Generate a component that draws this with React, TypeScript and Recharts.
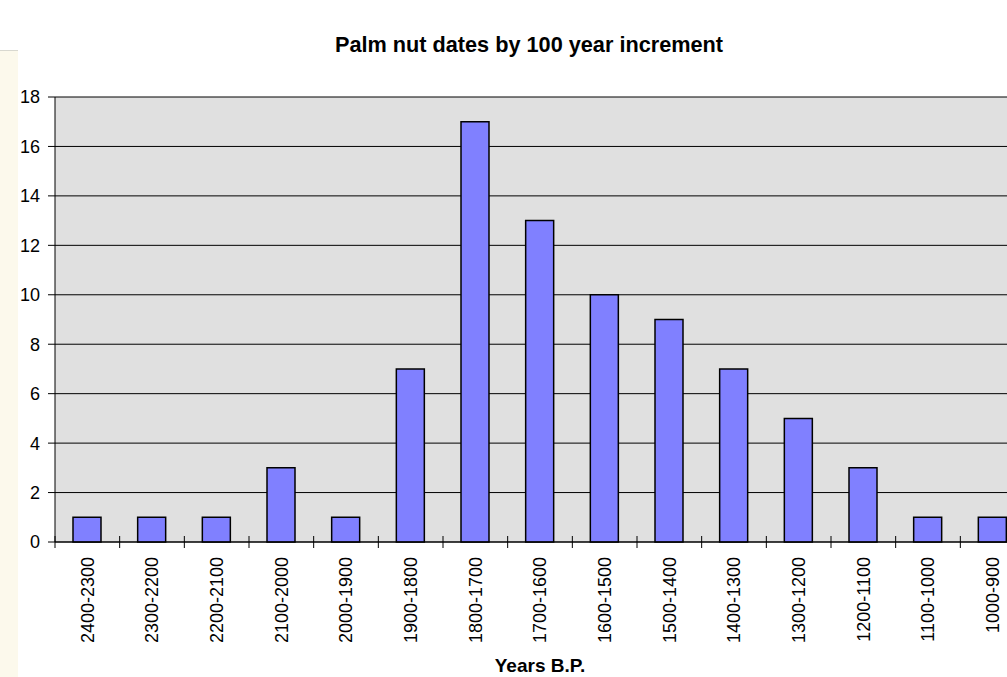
import { BarChart, Bar, XAxis, YAxis, CartesianGrid } from "recharts";

const periods = [
  "2400-2300",
  "2300-2200",
  "2200-2100",
  "2100-2000",
  "2000-1900",
  "1900-1800",
  "1800-1700",
  "1700-1600",
  "1600-1500",
  "1500-1400",
  "1400-1300",
  "1300-1200",
  "1200-1100",
  "1100-1000",
  "1000-900",
];

const counts = [1, 1, 1, 3, 1, 7, 17, 13, 10, 9, 7, 5, 3, 1, 1];

const yTicks = [0, 2, 4, 6, 8, 10, 12, 14, 16, 18];

const data = periods.map((period, i) => ({ period, count: counts[i] }));

const FONT = "Arial, 'Liberation Sans', sans-serif";

function PeriodTick(props: any) {
  const { x, y, payload } = props;
  const half = payload?.offset ?? 0;
  const isLast = payload?.index === periods.length - 1;
  return (
    <g>
      <line x1={x - half} x2={x - half} y1={y - 6} y2={y + 6} stroke="#000" />
      {isLast && (
        <line x1={x + half} x2={x + half} y1={y - 6} y2={y + 6} stroke="#000" />
      )}
      <text
        transform={`translate(${x},${y + 15}) rotate(-90)`}
        textAnchor="end"
        dy="0.35em"
        fontSize={18}
        fontFamily={FONT}
        fill="#000"
      >
        {payload.value}
      </text>
    </g>
  );
}

function CountTick(props: any) {
  const { x, y, payload } = props;
  return (
    <text
      x={x}
      y={y}
      dy="0.36em"
      textAnchor="end"
      fontSize={18}
      fontFamily={FONT}
      fill="#000"
    >
      {payload.value}
    </text>
  );
}

export default function App() {
  return (
    <div
      style={{
        position: "absolute",
        left: 0,
        top: 0,
        width: 1007,
        height: 677,
        overflow: "hidden",
        background: "#fff",
      }}
    >
      <div
        style={{
          position: "absolute",
          left: 0,
          top: 50,
          width: 18,
          height: 627,
          background: "#FCF9EC",
          borderTop: "1px solid #d8d8d0",
        }}
      />
      <div
        style={{
          position: "absolute",
          left: 229,
          top: 34,
          width: 600,
          textAlign: "center",
          fontFamily: FONT,
          fontWeight: "bold",
          fontSize: 21.7,
          lineHeight: "21px",
        }}
      >
        Palm nut dates by 100 year increment
      </div>
      <BarChart
        width={1040}
        height={677}
        data={data}
        margin={{ top: 97, right: 15, bottom: 0, left: 0 }}
        style={{ position: "absolute", left: 0, top: 0 }}
      >
        <CartesianGrid
          vertical={false}
          fill="#E0E0E0"
          stroke="#000"
          fillOpacity={1}
        />
        <XAxis
          dataKey="period"
          height={135}
          interval={0}
          tickSize={0}
          tickMargin={0}
          tickLine={false}
          axisLine={{ stroke: "#000" }}
          tick={<PeriodTick />}
        />
        <YAxis
          width={55}
          domain={[0, 18]}
          ticks={yTicks}
          interval={0}
          tickSize={7}
          tickMargin={8}
          axisLine={{ stroke: "#000" }}
          tickLine={{ stroke: "#000" }}
          tick={<CountTick />}
        />
        <Bar
          dataKey="count"
          fill="#8080FF"
          stroke="#000"
          strokeWidth={1.5}
          barSize={28}
          isAnimationActive={false}
        />
      </BarChart>
      <div
        style={{
          position: "absolute",
          left: 440,
          top: 656,
          width: 200,
          textAlign: "center",
          fontFamily: FONT,
          fontWeight: "bold",
          fontSize: 19,
          lineHeight: "19px",
        }}
      >
        Years B.P.
      </div>
    </div>
  );
}
